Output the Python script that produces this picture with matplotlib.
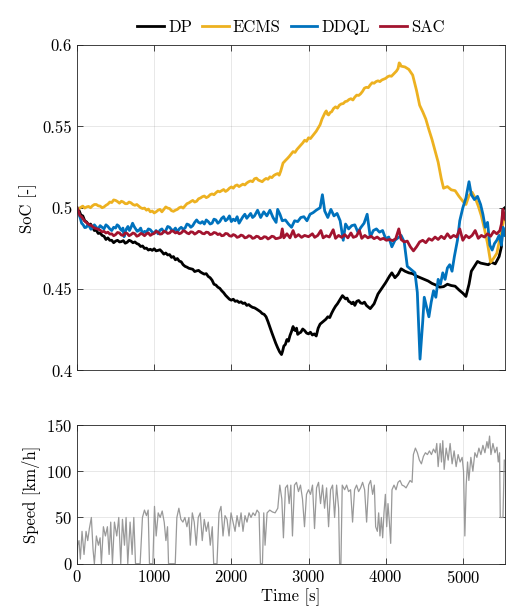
import numpy as np
import matplotlib
matplotlib.use("Agg")
import matplotlib.pyplot as plt
from matplotlib.ticker import FuncFormatter

plt.rcParams["font.family"] = "serif"
plt.rcParams["font.serif"] = ["cmr10", "DejaVu Serif"]
plt.rcParams["mathtext.fontset"] = "cm"
plt.rcParams["axes.formatter.use_mathtext"] = True
plt.rcParams["font.size"] = 12

# State of charge traces [-] against time [s]
t_dp = [0, 25, 50, 75, 100, 125, 150, 175, 200, 225, 250, 275, 300, 325,
        350, 375, 400, 425, 450, 475, 500, 525, 550, 575, 600, 625, 650, 675,
        700, 725, 750, 775, 800, 825, 850, 875, 900, 925, 950, 975, 1000,
        1025, 1050, 1075, 1100, 1125, 1150, 1175, 1200, 1225, 1250, 1275,
        1300, 1325, 1350, 1375, 1400, 1425, 1450, 1475, 1500, 1525, 1550,
        1575, 1600, 1625, 1650, 1675, 1700, 1725, 1750, 1775, 1800, 1825,
        1850, 1875, 1900, 1925, 1950, 1975, 2000, 2025, 2050, 2075, 2100,
        2125, 2150, 2175, 2200, 2225, 2250, 2275, 2300, 2325, 2350, 2375,
        2400, 2425, 2450, 2475, 2500, 2525, 2550, 2575, 2600, 2625, 2650,
        2665, 2680, 2700, 2720, 2740, 2760, 2780, 2800, 2815, 2830, 2845,
        2860, 2880, 2900, 2925, 2950, 2975, 3000, 3025, 3050, 3075, 3100,
        3125, 3150, 3175, 3200, 3225, 3250, 3275, 3300, 3325, 3350, 3375,
        3400, 3420, 3440, 3460, 3480, 3500, 3520, 3540, 3560, 3580, 3600,
        3625, 3650, 3675, 3700, 3725, 3750, 3775, 3800, 3825, 3850, 3875,
        3900, 3950, 4000, 4050, 4080, 4120, 4160, 4200, 4250, 4300, 4350,
        4400, 4450, 4500, 4550, 4600, 4650, 4700, 4750, 4800, 4850, 4900,
        4950, 5000, 5040, 5080, 5110, 5150, 5190, 5230, 5280, 5330, 5370,
        5420, 5470, 5500, 5520, 5545]
soc_dp = [0.5000, 0.4985, 0.4955, 0.4950, 0.4920, 0.4912, 0.4895, 0.4900,
          0.4880, 0.4860, 0.4862, 0.4842, 0.4845, 0.4830, 0.4825, 0.4805,
          0.4815, 0.4800, 0.4800, 0.4785, 0.4795, 0.4800, 0.4790, 0.4792,
          0.4798, 0.4782, 0.4788, 0.4800, 0.4795, 0.4785, 0.4790, 0.4780,
          0.4775, 0.4762, 0.4765, 0.4750, 0.4752, 0.4740, 0.4745, 0.4738,
          0.4748, 0.4735, 0.4738, 0.4742, 0.4730, 0.4715, 0.4722, 0.4710,
          0.4712, 0.4695, 0.4700, 0.4680, 0.4688, 0.4672, 0.4668, 0.4650,
          0.4640, 0.4635, 0.4628, 0.4625, 0.4622, 0.4608, 0.4612, 0.4615,
          0.4605, 0.4598, 0.4592, 0.4595, 0.4578, 0.4570, 0.4555, 0.4530,
          0.4525, 0.4512, 0.4505, 0.4490, 0.4478, 0.4462, 0.4450, 0.4438,
          0.4432, 0.4438, 0.4425, 0.4428, 0.4418, 0.4422, 0.4412, 0.4415,
          0.4400, 0.4405, 0.4395, 0.4388, 0.4385, 0.4378, 0.4370, 0.4362,
          0.4350, 0.4345, 0.4330, 0.4300, 0.4265, 0.4232, 0.4200, 0.4168,
          0.4140, 0.4115, 0.4098, 0.4120, 0.4150, 0.4160, 0.4190, 0.4180,
          0.4215, 0.4240, 0.4270, 0.4250, 0.4245, 0.4260, 0.4222, 0.4230,
          0.4235, 0.4255, 0.4245, 0.4230, 0.4225, 0.4235, 0.4218, 0.4225,
          0.4212, 0.4260, 0.4285, 0.4295, 0.4305, 0.4315, 0.4330, 0.4325,
          0.4352, 0.4375, 0.4395, 0.4410, 0.4430, 0.4445, 0.4460, 0.4450,
          0.4440, 0.4445, 0.4425, 0.4420, 0.4410, 0.4420, 0.4400, 0.4425,
          0.4430, 0.4415, 0.4412, 0.4420, 0.4400, 0.4390, 0.4380, 0.4395,
          0.4410, 0.4440, 0.4470, 0.4505, 0.4540, 0.4580, 0.4600, 0.4570,
          0.4590, 0.4625, 0.4610, 0.4600, 0.4595, 0.4580, 0.4570, 0.4560,
          0.4550, 0.4535, 0.4525, 0.4512, 0.4515, 0.4530, 0.4522, 0.4518,
          0.4495, 0.4475, 0.4455, 0.4530, 0.4610, 0.4640, 0.4670, 0.4660,
          0.4655, 0.4650, 0.4665, 0.4655, 0.4700, 0.4760, 0.4990, 0.5000]

t_ecms = [0, 25, 50, 75, 100, 125, 150, 175, 200, 225, 250, 275, 300, 325,
          350, 375, 400, 425, 450, 475, 500, 525, 550, 575, 600, 625, 650,
          675, 700, 725, 750, 775, 800, 825, 850, 875, 900, 925, 950, 975,
          1000, 1025, 1050, 1075, 1100, 1125, 1150, 1175, 1200, 1225, 1250,
          1275, 1300, 1325, 1350, 1375, 1400, 1425, 1450, 1475, 1500, 1525,
          1550, 1575, 1600, 1625, 1650, 1675, 1700, 1725, 1750, 1775, 1800,
          1825, 1850, 1875, 1900, 1925, 1950, 1975, 2000, 2025, 2050, 2075,
          2100, 2125, 2150, 2175, 2200, 2225, 2250, 2275, 2300, 2325, 2350,
          2375, 2400, 2425, 2450, 2475, 2500, 2525, 2550, 2575, 2600, 2620,
          2640, 2655, 2670, 2685, 2700, 2725, 2750, 2775, 2800, 2825, 2850,
          2875, 2900, 2925, 2950, 2975, 3000, 3025, 3050, 3075, 3100, 3125,
          3150, 3175, 3200, 3215, 3230, 3245, 3260, 3280, 3300, 3325, 3350,
          3375, 3400, 3425, 3450, 3475, 3500, 3525, 3550, 3575, 3600, 3625,
          3650, 3675, 3700, 3725, 3750, 3775, 3800, 3825, 3850, 3875, 3900,
          3925, 3950, 3975, 4000, 4025, 4050, 4075, 4100, 4120, 4140, 4160,
          4175, 4186, 4200, 4250, 4300, 4350, 4400, 4440, 4480, 4520, 4560,
          4600, 4640, 4680, 4720, 4750, 4800, 4850, 4900, 4950, 5000, 5040,
          5080, 5120, 5160, 5200, 5240, 5280, 5320, 5360, 5400, 5440, 5480,
          5520, 5545]
soc_ecms = [0.5000, 0.4995, 0.5003, 0.5010, 0.4998, 0.5005, 0.5008, 0.5000,
            0.5012, 0.5020, 0.5020, 0.5012, 0.5010, 0.5000, 0.5005, 0.5015,
            0.5022, 0.5035, 0.5032, 0.5048, 0.5045, 0.5038, 0.5028, 0.5040,
            0.5035, 0.5025, 0.5025, 0.5035, 0.5030, 0.5020, 0.5015, 0.5020,
            0.5010, 0.5000, 0.4995, 0.4998, 0.4985, 0.4992, 0.4975, 0.4980,
            0.4968, 0.4975, 0.4985, 0.4990, 0.4975, 0.4990, 0.5005, 0.4998,
            0.4995, 0.4982, 0.4978, 0.4985, 0.4990, 0.5000, 0.5005, 0.4998,
            0.5012, 0.5025, 0.5030, 0.5038, 0.5045, 0.5035, 0.5040, 0.5055,
            0.5060, 0.5068, 0.5072, 0.5062, 0.5068, 0.5080, 0.5085, 0.5080,
            0.5092, 0.5102, 0.5098, 0.5105, 0.5112, 0.5100, 0.5108, 0.5120,
            0.5128, 0.5120, 0.5135, 0.5140, 0.5130, 0.5138, 0.5145, 0.5140,
            0.5152, 0.5160, 0.5165, 0.5160, 0.5178, 0.5182, 0.5170, 0.5165,
            0.5160, 0.5172, 0.5180, 0.5175, 0.5190, 0.5185, 0.5198, 0.5205,
            0.5210, 0.5200, 0.5225, 0.5250, 0.5275, 0.5282, 0.5290, 0.5302,
            0.5315, 0.5330, 0.5345, 0.5340, 0.5358, 0.5372, 0.5385, 0.5398,
            0.5415, 0.5408, 0.5430, 0.5425, 0.5440, 0.5455, 0.5470, 0.5490,
            0.5510, 0.5545, 0.5570, 0.5585, 0.5595, 0.5575, 0.5570, 0.5585,
            0.5590, 0.5610, 0.5620, 0.5612, 0.5630, 0.5638, 0.5640, 0.5652,
            0.5655, 0.5665, 0.5670, 0.5662, 0.5680, 0.5692, 0.5690, 0.5700,
            0.5715, 0.5735, 0.5740, 0.5738, 0.5755, 0.5768, 0.5765, 0.5775,
            0.5780, 0.5775, 0.5785, 0.5790, 0.5795, 0.5805, 0.5810, 0.5808,
            0.5820, 0.5830, 0.5840, 0.5855, 0.5890, 0.5885, 0.5870, 0.5865,
            0.5850, 0.5815, 0.5720, 0.5630, 0.5590, 0.5545, 0.5480, 0.5420,
            0.5350, 0.5280, 0.5180, 0.5120, 0.5130, 0.5110, 0.5105, 0.5070,
            0.5040, 0.5020, 0.5075, 0.5095, 0.5060, 0.5010, 0.4950, 0.4870,
            0.4780, 0.4665, 0.4690, 0.4720, 0.4810, 0.4900, 0.4960]

t_ddql = [0, 20, 40, 60, 80, 100, 120, 140, 160, 180, 200, 225, 250, 275,
          300, 325, 350, 375, 400, 425, 450, 475, 500, 520, 540, 560, 580,
          595, 610, 625, 640, 660, 680, 700, 720, 740, 760, 780, 800, 825,
          850, 875, 900, 925, 950, 975, 1000, 1025, 1050, 1075, 1100, 1125,
          1150, 1175, 1200, 1225, 1250, 1275, 1300, 1325, 1350, 1375, 1400,
          1425, 1450, 1475, 1500, 1525, 1550, 1575, 1600, 1625, 1650, 1675,
          1700, 1725, 1750, 1775, 1800, 1825, 1850, 1875, 1900, 1925, 1950,
          1975, 2000, 2025, 2050, 2075, 2100, 2125, 2150, 2175, 2200, 2225,
          2250, 2275, 2300, 2340, 2380, 2420, 2460, 2500, 2540, 2580, 2600,
          2630, 2660, 2700, 2740, 2780, 2820, 2860, 2900, 2940, 2980, 3020,
          3060, 3100, 3150, 3180, 3210, 3250, 3290, 3330, 3370, 3410, 3450,
          3480, 3520, 3560, 3600, 3640, 3680, 3720, 3760, 3800, 3840, 3880,
          3920, 3960, 4000, 4040, 4080, 4120, 4160, 4200, 4240, 4280, 4330,
          4380, 4410, 4445, 4480, 4500, 4530, 4560, 4590, 4620, 4650, 4680,
          4710, 4740, 4770, 4800, 4830, 4860, 4890, 4930, 4960, 5000, 5040,
          5080, 5110, 5150, 5190, 5230, 5260, 5290, 5320, 5350, 5380, 5410,
          5440, 5470, 5500, 5520, 5545]
soc_ddql = [0.5000, 0.4965, 0.4940, 0.4905, 0.4895, 0.4878, 0.4880, 0.4895,
            0.4885, 0.4868, 0.4875, 0.4895, 0.4880, 0.4870, 0.4890, 0.4880,
            0.4870, 0.4895, 0.4885, 0.4870, 0.4860, 0.4880, 0.4875, 0.4895,
            0.4888, 0.4870, 0.4860, 0.4875, 0.4822, 0.4850, 0.4870, 0.4885,
            0.4860, 0.4880, 0.4905, 0.4885, 0.4870, 0.4855, 0.4860, 0.4875,
            0.4840, 0.4855, 0.4850, 0.4870, 0.4865, 0.4850, 0.4845, 0.4860,
            0.4840, 0.4862, 0.4870, 0.4850, 0.4860, 0.4885, 0.4880, 0.4865,
            0.4860, 0.4875, 0.4850, 0.4870, 0.4880, 0.4868, 0.4875, 0.4900,
            0.4895, 0.4880, 0.4890, 0.4910, 0.4925, 0.4910, 0.4905, 0.4915,
            0.4900, 0.4925, 0.4915, 0.4900, 0.4905, 0.4930, 0.4925, 0.4905,
            0.4915, 0.4935, 0.4945, 0.4920, 0.4930, 0.4950, 0.4915, 0.4930,
            0.4920, 0.4945, 0.4905, 0.4925, 0.4945, 0.4960, 0.4935, 0.4950,
            0.4965, 0.4940, 0.4950, 0.4985, 0.4940, 0.4975, 0.4950, 0.4985,
            0.4940, 0.4910, 0.4990, 0.4960, 0.4920, 0.4925, 0.4900, 0.4880,
            0.4920, 0.4915, 0.4940, 0.4945, 0.4920, 0.4960, 0.4970, 0.4985,
            0.5000, 0.5080, 0.4980, 0.4940, 0.4990, 0.4950, 0.4965, 0.4920,
            0.4800, 0.4900, 0.4870, 0.4890, 0.4895, 0.4850, 0.4880, 0.4905,
            0.4960, 0.4820, 0.4860, 0.4870, 0.4850, 0.4860, 0.4810, 0.4820,
            0.4760, 0.4800, 0.4815, 0.4830, 0.4790, 0.4640, 0.4620, 0.4600,
            0.4480, 0.4070, 0.4300, 0.4450, 0.4390, 0.4330, 0.4420, 0.4490,
            0.4450, 0.4560, 0.4530, 0.4600, 0.4560, 0.4630, 0.4650, 0.4610,
            0.4700, 0.4800, 0.4920, 0.5000, 0.5060, 0.5160, 0.5080, 0.5050,
            0.5070, 0.5020, 0.4960, 0.4880, 0.4910, 0.4770, 0.4740, 0.4780,
            0.4800, 0.4830, 0.4770, 0.4880, 0.4830]

t_sac = [0, 20, 40, 60, 80, 100, 120, 140, 160, 180, 200, 225, 250, 275,
         300, 325, 350, 375, 400, 425, 450, 475, 500, 525, 550, 575, 600,
         625, 650, 675, 700, 725, 750, 775, 800, 825, 850, 875, 900, 925,
         950, 975, 1000, 1025, 1050, 1075, 1100, 1125, 1150, 1175, 1200,
         1225, 1250, 1275, 1300, 1325, 1350, 1375, 1400, 1425, 1450, 1475,
         1500, 1525, 1550, 1575, 1600, 1625, 1650, 1675, 1700, 1725, 1750,
         1775, 1800, 1825, 1850, 1875, 1900, 1925, 1950, 1975, 2000, 2025,
         2050, 2075, 2100, 2125, 2150, 2175, 2200, 2225, 2250, 2275, 2300,
         2325, 2350, 2375, 2400, 2425, 2450, 2475, 2500, 2525, 2550, 2575,
         2600, 2640, 2660, 2680, 2720, 2760, 2800, 2830, 2870, 2910, 2950,
         3000, 3050, 3080, 3120, 3160, 3190, 3230, 3270, 3320, 3350, 3390,
         3430, 3470, 3510, 3550, 3580, 3620, 3660, 3690, 3730, 3770, 3810,
         3850, 3890, 3930, 3970, 4010, 4050, 4090, 4130, 4170, 4200, 4240,
         4280, 4320, 4360, 4400, 4440, 4480, 4520, 4560, 4600, 4640, 4680,
         4720, 4760, 4800, 4840, 4880, 4920, 4960, 5000, 5040, 5080, 5120,
         5160, 5200, 5240, 5280, 5320, 5360, 5400, 5440, 5480, 5500, 5520,
         5545]
soc_sac = [0.5000, 0.4975, 0.4950, 0.4945, 0.4930, 0.4918, 0.4910, 0.4902,
           0.4895, 0.4892, 0.4885, 0.4875, 0.4872, 0.4868, 0.4862, 0.4852,
           0.4855, 0.4845, 0.4850, 0.4838, 0.4840, 0.4828, 0.4835, 0.4848,
           0.4845, 0.4832, 0.4830, 0.4845, 0.4842, 0.4828, 0.4835, 0.4845,
           0.4840, 0.4825, 0.4830, 0.4842, 0.4838, 0.4828, 0.4840, 0.4845,
           0.4830, 0.4838, 0.4842, 0.4855, 0.4850, 0.4838, 0.4840, 0.4855,
           0.4852, 0.4842, 0.4845, 0.4858, 0.4855, 0.4845, 0.4850, 0.4840,
           0.4845, 0.4858, 0.4855, 0.4845, 0.4840, 0.4852, 0.4850, 0.4838,
           0.4845, 0.4855, 0.4852, 0.4842, 0.4840, 0.4850, 0.4848, 0.4835,
           0.4838, 0.4848, 0.4845, 0.4835, 0.4840, 0.4828, 0.4830, 0.4842,
           0.4840, 0.4828, 0.4825, 0.4835, 0.4830, 0.4818, 0.4822, 0.4832,
           0.4828, 0.4815, 0.4818, 0.4828, 0.4825, 0.4812, 0.4815, 0.4825,
           0.4822, 0.4810, 0.4812, 0.4822, 0.4820, 0.4808, 0.4815, 0.4825,
           0.4822, 0.4810, 0.4812, 0.4818, 0.4870, 0.4815, 0.4840, 0.4815,
           0.4860, 0.4820, 0.4835, 0.4818, 0.4830, 0.4822, 0.4840, 0.4818,
           0.4830, 0.4860, 0.4815, 0.4828, 0.4820, 0.4865, 0.4812, 0.4830,
           0.4818, 0.4835, 0.4815, 0.4845, 0.4818, 0.4825, 0.4860, 0.4812,
           0.4830, 0.4815, 0.4825, 0.4810, 0.4820, 0.4805, 0.4812, 0.4800,
           0.4805, 0.4798, 0.4810, 0.4870, 0.4805, 0.4790, 0.4795, 0.4760,
           0.4735, 0.4760, 0.4790, 0.4800, 0.4785, 0.4810, 0.4800, 0.4820,
           0.4805, 0.4825, 0.4810, 0.4840, 0.4815, 0.4830, 0.4820, 0.4870,
           0.4800, 0.4830, 0.4815, 0.4830, 0.4860, 0.4812, 0.4830, 0.4820,
           0.4840, 0.4825, 0.4855, 0.4840, 0.4860, 0.4900, 0.4990, 0.4930]

# Vehicle speed [km/h] of the driving cycle
t_speed = [0, 9, 26, 43, 65, 91, 117, 139, 160, 186, 208, 225, 251, 277,
           299, 316, 342, 368, 394, 416, 437, 459, 485, 515, 541, 567, 589,
           615, 636, 658, 688, 714, 736, 758, 792, 818, 848, 874, 900, 922,
           939, 983, 1004, 1026, 1052, 1078, 1104, 1130, 1152, 1173, 1186,
           1273, 1294, 1320, 1346, 1372, 1398, 1424, 1450, 1468, 1494, 1519,
           1545, 1571, 1597, 1623, 1649, 1675, 1701, 1727, 1753, 1771, 1814,
           1840, 1866, 1892, 1918, 1944, 1970, 1996, 2022, 2048, 2074, 2100,
           2126, 2151, 2177, 2203, 2229, 2255, 2281, 2307, 2333, 2359, 2377,
           2403, 2420, 2437, 2463, 2498, 2532, 2567, 2602, 2628, 2654, 2675,
           2701, 2727, 2749, 2771, 2792, 2818, 2844, 2870, 2896, 2922, 2948,
           2974, 3000, 3026, 3052, 3078, 3104, 3130, 3156, 3182, 3208, 3234,
           3260, 3286, 3312, 3338, 3364, 3390, 3403, 3420, 3437, 3468, 3494,
           3519, 3545, 3571, 3597, 3623, 3649, 3675, 3701, 3727, 3753, 3779,
           3805, 3831, 3853, 3870, 3892, 3909, 3926, 3944, 3961, 3978, 3996,
           4013, 4030, 4048, 4065, 4082, 4108, 4134, 4160, 4186, 4212, 4238,
           4264, 4290, 4316, 4342, 4359, 4385, 4411, 4437, 4463, 4489, 4515,
           4541, 4567, 4593, 4619, 4645, 4662, 4680, 4706, 4723, 4740, 4758,
           4784, 4810, 4835, 4861, 4887, 4913, 4939, 4965, 4991, 5009, 5026,
           5043, 5061, 5078, 5104, 5130, 5156, 5182, 5208, 5234, 5260, 5286,
           5312, 5329, 5346, 5364, 5390, 5416, 5442, 5459, 5476, 5485, 5520,
           5537]
speed = [0, 20, 25, 5, 35, 10, 35, 25, 38, 50, 15, 0, 30, 20, 28, 0, 40, 30,
         40, 10, 45, 0, 45, 30, 50, 0, 48, 20, 50, 0, 45, 10, 50, 0, 0, 0, 50,
         58, 52, 58, 0, 0, 62, 30, 55, 50, 57, 45, 25, 40, 0, 0, 50, 60, 48,
         45, 50, 40, 50, 20, 55, 45, 20, 50, 55, 25, 48, 35, 45, 20, 40, 0, 0,
         55, 62, 30, 52, 48, 30, 55, 45, 35, 52, 40, 55, 35, 52, 45, 55, 50,
         55, 52, 58, 55, 0, 0, 55, 20, 55, 58, 56, 55, 60, 85, 70, 28, 82, 85,
         65, 85, 30, 85, 88, 78, 85, 70, 40, 75, 80, 75, 85, 38, 82, 88, 65,
         85, 60, 82, 40, 80, 85, 50, 85, 60, 0, 0, 85, 80, 85, 78, 80, 45, 80,
         85, 78, 82, 88, 80, 45, 85, 90, 75, 85, 40, 35, 55, 30, 50, 28, 55,
         75, 40, 65, 45, 22, 80, 85, 80, 88, 90, 85, 84, 82, 86, 90, 88, 118,
         125, 120, 112, 108, 116, 120, 118, 122, 118, 124, 120, 130, 105, 130,
         110, 133, 102, 125, 112, 130, 108, 122, 105, 118, 110, 115, 100, 30,
         85, 110, 90, 115, 100, 120, 115, 125, 118, 128, 120, 132, 125, 138,
         118, 130, 120, 126, 110, 120, 50, 50, 112]

series = [("DP", t_dp, soc_dp, "black"),
          ("ECMS", t_ecms, soc_ecms, "#EDB120"),
          ("DDQL", t_ddql, soc_ddql, "#0072BD"),
          ("SAC", t_sac, soc_sac, "#A2142F")]

t_end = 5545
axis_color = "0.15"


def _matlab_axes(ax):
    """Box, inward ticks on every side and a faint grid."""
    ax.tick_params(direction="in", top=True, right=True, length=4,
                   width=0.6, colors=axis_color, labelcolor="black")
    for spine in ax.spines.values():
        spine.set_color(axis_color)
        spine.set_linewidth(0.6)
    ax.grid(True, color="0.15", alpha=0.12, linewidth=0.6)
    ax.set_axisbelow(True)


fig = plt.figure(figsize=(5.1, 6.13), dpi=100)
ax_soc = fig.add_axes([0.151, 0.3956, 0.839, 0.531])
ax_spd = fig.add_axes([0.151, 0.0804, 0.839, 0.2263])

for name, t, soc, color in series:
    ax_soc.plot(t, soc, color=color, linewidth=2.0, label=name)

ax_soc.set_xlim(0, t_end)
ax_soc.set_ylim(0.4, 0.6)
ax_soc.set_xticks(np.arange(0, 6000, 1000))
ax_soc.set_xticklabels([])
ax_soc.set_yticks([0.4, 0.45, 0.5, 0.55, 0.6])
ax_soc.yaxis.set_major_formatter(FuncFormatter(lambda v, p: "%g" % v))
ax_soc.set_ylabel("SoC [-]")
_matlab_axes(ax_soc)
ax_soc.legend(loc="lower center", bbox_to_anchor=(0.5, 1.0), ncol=4,
              frameon=False, handlelength=1.6, handletextpad=0.25,
              columnspacing=0.6, borderaxespad=0.2)

ax_spd.plot(t_speed, speed, color="0.6", linewidth=0.9)
ax_spd.set_xlim(0, t_end)
ax_spd.set_ylim(0, 150)
ax_spd.set_xticks(np.arange(0, 6000, 1000))
ax_spd.set_yticks([0, 50, 100, 150])
ax_spd.set_xlabel("Time [s]", labelpad=2)
ax_spd.set_ylabel("Speed [km/h]")
_matlab_axes(ax_spd)

fig.savefig("out.png", dpi=100)
